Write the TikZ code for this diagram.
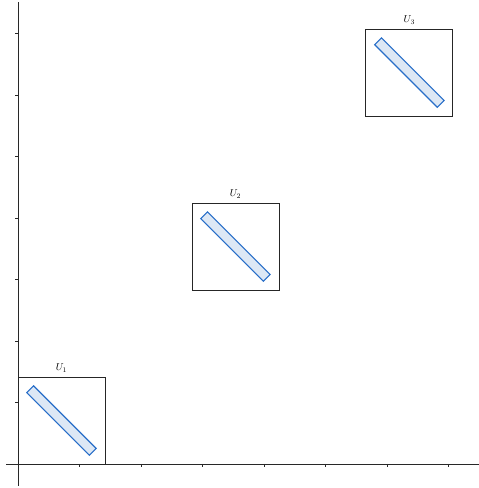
\documentclass[tikz,border=0pt]{standalone}
\usepackage{tikz}
\definecolor{stripblue}{RGB}{40,110,200}
\definecolor{stripfill}{RGB}{221,232,245}
\definecolor{axisgray}{RGB}{40,40,40}
\begin{document}
\begin{tikzpicture}[x=61.5pt,y=61.5pt,
  axisline/.style={draw=axisgray,line width=0.9pt},
  tickline/.style={draw=axisgray,line width=0.7pt},
  boxline/.style={draw=black!85,line width=0.8pt},
  strip/.style={draw=stripblue,fill=stripfill,line width=1.1pt},
  lbl/.style={font=\normalsize,inner sep=1pt,above=3.5pt}]
\useasboundingbox (-18pt,-24pt) rectangle (461pt,464pt);
% axes
\coordinate (xs) at (-12pt,0);
\coordinate (xe) at (461pt,0);
\coordinate (ys) at (0,-22pt);
\coordinate (ye) at (0,462pt);
\draw[axisline] (xs) -- (xe);
\draw[axisline] (ys) -- (ye);
\foreach \i in {1,...,7} {
  \draw[tickline] (\i,0) -- ++(0,-3pt);
  \draw[tickline] (0,\i) -- ++(-3pt,0);
}
% boxes
\foreach \k/\a in {1/0,2/2.82843,3/5.65685} {
  \coordinate (bl\k) at (\a,\a);
  \coordinate (tr\k) at ({\a+1.41421},{\a+1.41421});
  \coordinate (c\k) at ({\a+0.70711},{\a+0.70711});
  \draw[boxline] (bl\k) rectangle (tr\k);
  \draw[strip,shift={(c\k)},rotate=-45] (-0.72,-0.078) rectangle (0.72,0.078);
  \node[lbl] (u\k) at ({\a+0.70711},{\a+1.41421}) {$U_{\k}$};
}
\end{tikzpicture}
\end{document}
